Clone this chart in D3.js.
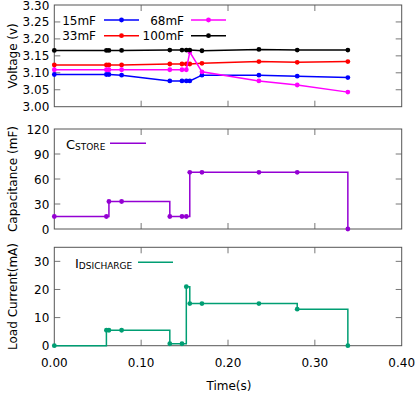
<!DOCTYPE html>
<html><head><meta charset="utf-8">
<script src="https://cdn.jsdelivr.net/npm/d3@7"></script>
<style>
body{margin:0;background:#fff;}
svg{display:block;font-family:"DejaVu Sans",sans-serif;}
</style></head><body>
<svg id="c" width="415" height="394"></svg>
<script>
// ---- data ----
const time = [0, 0.060, 0.0629, 0.0775, 0.133, 0.147, 0.152, 0.156, 0.170, 0.2356, 0.2797, 0.338];
const v15  = [3.095,3.095,3.095,3.093,3.076,3.076,3.076,3.076,3.093,3.093,3.090,3.086];
const v33  = [3.123,3.123,3.123,3.123,3.126,3.126,3.126,3.126,3.128,3.133,3.131,3.133];
const v68  = [3.109,3.109,3.109,3.109,3.109,3.109,3.109,3.161,3.103,3.076,3.064,3.043];
const v100 = [3.166,3.166,3.166,3.166,3.167,3.167,3.167,3.167,3.165,3.169,3.167,3.167];
const capacitance = [15,15,33,33,15,15,15,68,68,68,68,0];
const current = [0,5.5,5.5,5.5,0.7,0.7,21,15,15,15,13,0];
const xTicks = [0,0.10,0.20,0.30,0.40];
const vTicks = [3.00,3.05,3.10,3.15,3.20,3.25,3.30];
const cTicks = [0,30,60,90,120];
const iTicks = [0,10,20,30];
const voltSeries = [
  {name:"15mF", values:v15, color:"#0000ff"},
  {name:"33mF", values:v33, color:"#ff0000"},
  {name:"68mF", values:v68, color:"#ff00ff"},
  {name:"100mF", values:v100, color:"#000000"}
];

const svg = d3.select("#c");
const L = 54.3, R = 401.7;
const x = d3.scaleLinear().domain([0,0.40]).range([L,R]);
const FS = 12;
const borderCol = "#555", tickCol = "#777";

function panel(top, bottom, yDomain, yTicks, fmt, label, showX){
  const y = d3.scaleLinear().domain(yDomain).range([bottom, top]);
  const g = svg.append("g");
  const tl = 6;
  yTicks.forEach(t=>{
    const yy = y(t);
    if (t!==yDomain[0] && t!==yDomain[1]) {
      g.append("line").attr("x1",L).attr("x2",L+tl).attr("y1",yy).attr("y2",yy).attr("stroke",tickCol);
      g.append("line").attr("x1",R).attr("x2",R-tl).attr("y1",yy).attr("y2",yy).attr("stroke",tickCol);
    }
    g.append("text").attr("x",L-5).attr("y",yy+4.5).attr("text-anchor","end")
      .attr("font-size",FS).attr("fill","#000").text(fmt(t));
  });
  xTicks.forEach(t=>{
    const xx = x(t);
    if (t!==0 && t!==0.40) {
      g.append("line").attr("x1",xx).attr("x2",xx).attr("y1",bottom).attr("y2",bottom-tl).attr("stroke",tickCol);
      g.append("line").attr("x1",xx).attr("x2",xx).attr("y1",top).attr("y2",top+tl).attr("stroke",tickCol);
    }
    if (showX) g.append("text").attr("x",xx).attr("y",bottom+21).attr("text-anchor","middle")
      .attr("font-size",FS).text(d3.format(".2f")(t));
  });
  g.append("rect").attr("x",L).attr("y",top).attr("width",R-L).attr("height",bottom-top)
    .attr("fill","none").attr("stroke",borderCol).attr("stroke-width",1);
  g.append("text").attr("transform",`translate(17,${(top+bottom)/2}) rotate(-90)`)
    .attr("text-anchor","middle").attr("font-size",FS).text(label);
  return {g,y};
}

// Panel 1: voltage
const p1 = panel(5, 106.7, [3.00,3.30], vTicks, d3.format(".2f"), "Voltage (v)", false);
voltSeries.forEach(s=>{
  const line = d3.line().x((d,i)=>x(time[i])).y(d=>p1.y(d));
  p1.g.append("path").attr("d",line(s.values)).attr("fill","none").attr("stroke",s.color).attr("stroke-width",1.5);
  p1.g.selectAll(null).data(s.values).enter().append("circle")
    .attr("cx",(d,i)=>x(time[i])).attr("cy",d=>p1.y(d)).attr("r",2.4).attr("fill",s.color);
});
const legPos = [
  {tx:96, lx1:104, lx2:139, y:20},
  {tx:96, lx1:104, lx2:139, y:35.7},
  {tx:184, lx1:191, lx2:226, y:20},
  {tx:184, lx1:191, lx2:226, y:35.7}
];
voltSeries.forEach((s,i)=>{
  const p = legPos[i];
  p1.g.append("text").attr("x",p.tx).attr("y",p.y+4.5).attr("text-anchor","end").attr("font-size",FS).text(s.name);
  p1.g.append("line").attr("x1",p.lx1).attr("x2",p.lx2).attr("y1",p.y).attr("y2",p.y).attr("stroke",s.color).attr("stroke-width",1.5);
  p1.g.append("circle").attr("cx",(p.lx1+p.lx2)/2).attr("cy",p.y).attr("r",2.4).attr("fill",s.color);
});

// Panel 2: capacitance
const p2 = panel(129, 229, [0,120], cTicks, d3.format("d"), "Capacitance (mF)", false);
const cCol = "#9400d3";
const stepLine2 = d3.line().curve(d3.curveStepAfter).x((d,i)=>x(time[i])).y(d=>p2.y(d));
p2.g.append("path").attr("d",stepLine2(capacitance)).attr("fill","none").attr("stroke",cCol).attr("stroke-width",1.5);
p2.g.selectAll(null).data(capacitance).enter().append("circle")
  .attr("cx",(d,i)=>x(time[i])).attr("cy",d=>p2.y(d)).attr("r",2.4).attr("fill",cCol);
const t2 = p2.g.append("text").attr("x",66).attr("y",148.5).attr("font-size",13);
t2.append("tspan").text("C");
t2.append("tspan").attr("font-size",9).attr("dy",1.5).text("STORE");
p2.g.append("line").attr("x1",110).attr("x2",146).attr("y1",143.3).attr("y2",143.3).attr("stroke",cCol).attr("stroke-width",1.5);

// Panel 3: current
const p3 = panel(247.3, 345.7, [0,35], iTicks, d3.format("d"), "Load Current(mA)", true);
const iCol = "#009e73";
const stepLine3 = d3.line().curve(d3.curveStepAfter).x((d,i)=>x(time[i])).y(d=>p3.y(d));
p3.g.append("path").attr("d",stepLine3(current)).attr("fill","none").attr("stroke",iCol).attr("stroke-width",1.5);
p3.g.selectAll(null).data(current).enter().append("circle")
  .attr("cx",(d,i)=>x(time[i])).attr("cy",d=>p3.y(d)).attr("r",2.4).attr("fill",iCol);
const t3 = p3.g.append("text").attr("x",75).attr("y",267.5).attr("font-size",13);
t3.append("tspan").text("I");
t3.append("tspan").attr("font-size",9).attr("dy",1.5).text("DSICHARGE");
p3.g.append("line").attr("x1",138).attr("x2",173).attr("y1",262.3).attr("y2",262.3).attr("stroke",iCol).attr("stroke-width",1.5);

svg.append("text").attr("x",229).attr("y",390).attr("text-anchor","middle").attr("font-size",FS).text("Time(s)");
</script>
</body></html>
